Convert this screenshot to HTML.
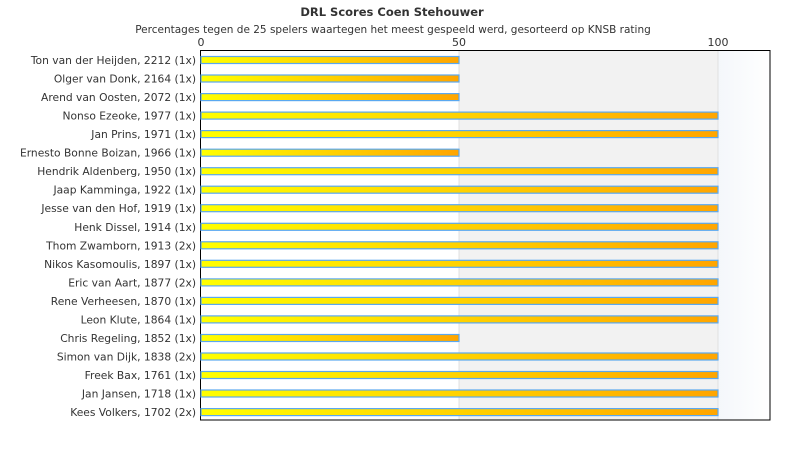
<!DOCTYPE html>
<html><head><meta charset="utf-8"><style>
body{margin:0;background:#fff;}
</style></head><body>
<svg width="790" height="450" xmlns="http://www.w3.org/2000/svg" font-family="DejaVu Sans, Liberation Sans, sans-serif" style="display:block">
<defs>
<linearGradient id="g" x1="0" x2="1"><stop offset="0" stop-color="#ffff00"/><stop offset="1" stop-color="#ffa500"/></linearGradient>
<linearGradient id="b" x1="0" x2="1"><stop offset="0" stop-color="#f4f7fb"/><stop offset="1" stop-color="#ffffff"/></linearGradient>
</defs>
<text x="392" y="16" text-anchor="middle" font-size="11.5" font-weight="bold" fill="#333">DRL Scores Coen Stehouwer</text>
<text x="393" y="33" text-anchor="middle" font-size="10.5" fill="#333">Percentages tegen de 25 spelers waartegen het meest gespeeld werd, gesorteerd op KNSB rating</text>
<rect x="459" y="50" width="259" height="370" fill="#f2f2f2"/>
<rect x="718" y="50" width="52" height="370" fill="url(#b)"/>
<line x1="459" y1="50" x2="459" y2="420" stroke="#e0e0e0"/>
<line x1="718" y1="50" x2="718" y2="420" stroke="#e0e0e0"/>
<rect x="200.5" y="50.5" width="569.5" height="369.5" fill="none" stroke="#000"/>
<g font-size="11" fill="#333" text-anchor="middle">
<text x="201" y="46">0</text><text x="459" y="46">50</text><text x="718" y="46">100</text>
</g>
<g font-size="10.7" fill="#333" text-anchor="end">
<text x="196" y="64">Ton van der Heijden, 2212 (1x)</text>
<text x="196" y="82.5">Olger van Donk, 2164 (1x)</text>
<text x="196" y="101.1">Arend van Oosten, 2072 (1x)</text>
<text x="196" y="119.6">Nonso Ezeoke, 1977 (1x)</text>
<text x="196" y="138.1">Jan Prins, 1971 (1x)</text>
<text x="196" y="156.7">Ernesto Bonne Boizan, 1966 (1x)</text>
<text x="196" y="175.2">Hendrik Aldenberg, 1950 (1x)</text>
<text x="196" y="193.7">Jaap Kamminga, 1922 (1x)</text>
<text x="196" y="212.2">Jesse van den Hof, 1919 (1x)</text>
<text x="196" y="230.8">Henk Dissel, 1914 (1x)</text>
<text x="196" y="249.3">Thom Zwamborn, 1913 (2x)</text>
<text x="196" y="267.8">Nikos Kasomoulis, 1897 (1x)</text>
<text x="196" y="286.4">Eric van Aart, 1877 (2x)</text>
<text x="196" y="304.9">Rene Verheesen, 1870 (1x)</text>
<text x="196" y="323.4">Leon Klute, 1864 (1x)</text>
<text x="196" y="342">Chris Regeling, 1852 (1x)</text>
<text x="196" y="360.5">Simon van Dijk, 1838 (2x)</text>
<text x="196" y="379">Freek Bax, 1761 (1x)</text>
<text x="196" y="397.5">Jan Jansen, 1718 (1x)</text>
<text x="196" y="416.1">Kees Volkers, 1702 (2x)</text>
</g>
<g fill="url(#g)" stroke="#5aa8f0" stroke-width="1.2">
<rect x="201" y="56.5" width="258" height="7"/>
<rect x="201" y="75" width="258" height="7"/>
<rect x="201" y="93.6" width="258" height="7"/>
<rect x="201" y="112.1" width="517" height="7"/>
<rect x="201" y="130.6" width="517" height="7"/>
<rect x="201" y="149.2" width="258" height="7"/>
<rect x="201" y="167.7" width="517" height="7"/>
<rect x="201" y="186.2" width="517" height="7"/>
<rect x="201" y="204.7" width="517" height="7"/>
<rect x="201" y="223.3" width="517" height="7"/>
<rect x="201" y="241.8" width="517" height="7"/>
<rect x="201" y="260.3" width="517" height="7"/>
<rect x="201" y="278.9" width="517" height="7"/>
<rect x="201" y="297.4" width="517" height="7"/>
<rect x="201" y="315.9" width="517" height="7"/>
<rect x="201" y="334.5" width="258" height="7"/>
<rect x="201" y="353" width="517" height="7"/>
<rect x="201" y="371.5" width="517" height="7"/>
<rect x="201" y="390" width="517" height="7"/>
<rect x="201" y="408.6" width="517" height="7"/>
</g>
</svg>
</body></html>
